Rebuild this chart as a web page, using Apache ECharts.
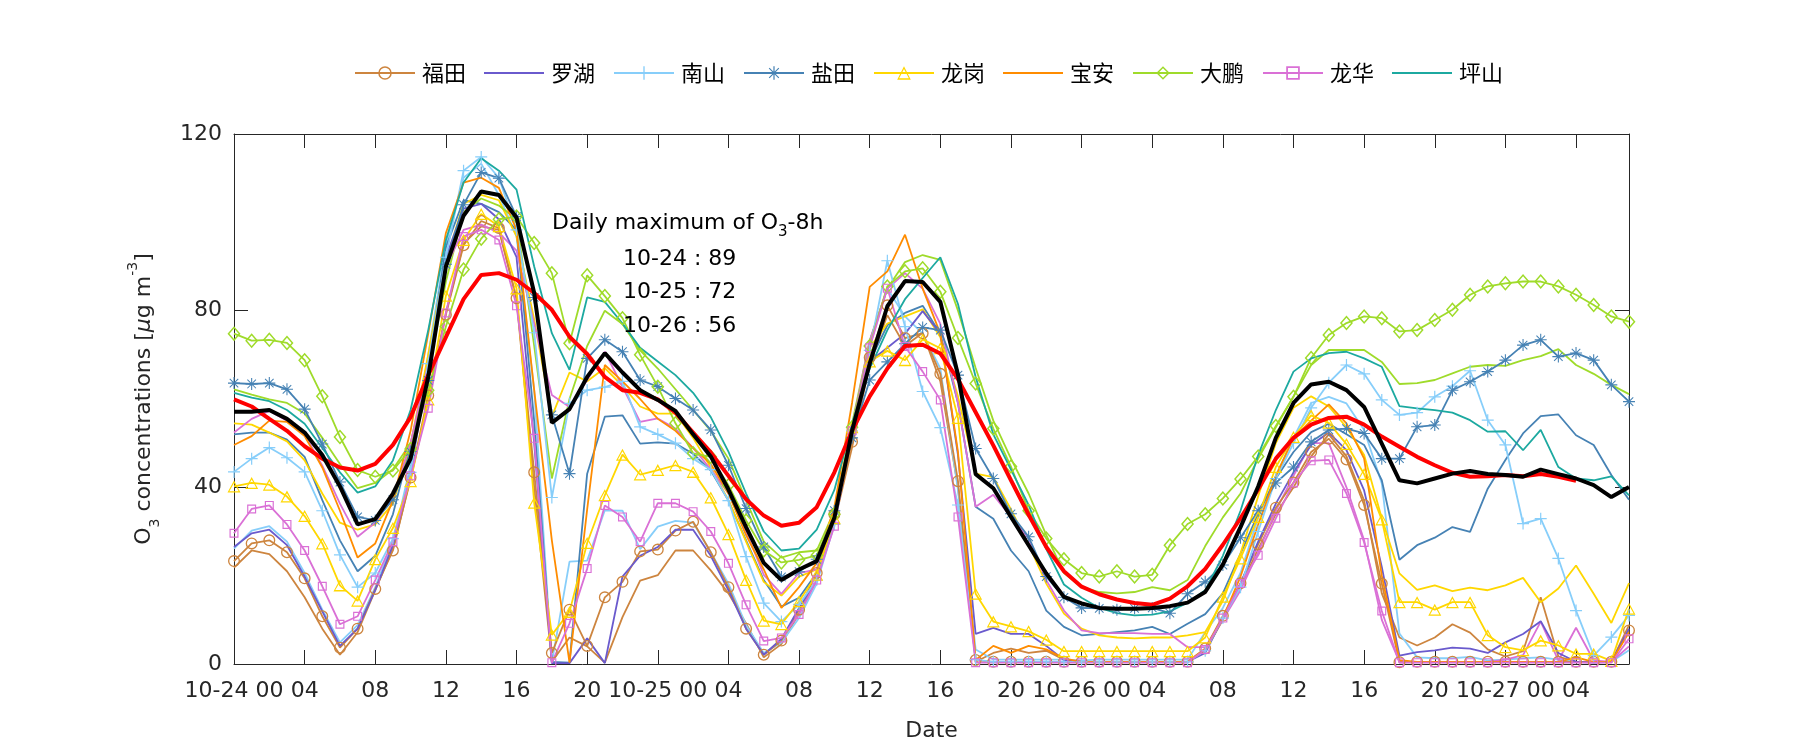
<!DOCTYPE html>
<html><head><meta charset="utf-8">
<script src="https://cdn.jsdelivr.net/npm/echarts@6/dist/echarts.min.js"></script>
<style>html,body{margin:0;padding:0;background:#fff}#chart{width:1800px;height:750px}</style>
</head><body><div id="chart"></div>
<script>
// ---- data (hourly, 10-24 00:00 .. 10-27 07:00) ----
const days = ['10-24', '10-25', '10-26', '10-27'];
const stationNames = ['福田', '罗湖', '南山', '盐田', '龙岗', '宝安', '大鹏', '龙华', '坪山'];
const maxLabels = ['10-24 : 89', '10-25 : 72', '10-26 : 56'];

const futian = [23.3,27.3,28.0,25.3,19.4,10.8,3.7,8.0,17.0,25.7,42.2,60.8,79.1,94.8,100.3,98.7,82.8,
 43.4,2.5,12.3,4.1,15.1,18.6,25.5,25.9,30.2,32.2,25.3,17.4,8.0,2.1,5.3,12.3,
 20.6,33.9,50.3,69.4,81.2,73.8,74.9,65.7,41.4,0.9,0.5,0.5,0.5,0.5,0.5,0.5,
 0.5,0.5,0.5,0.5,0.5,0.5,3.5,10.9,18.3,27.1,35.4,41.1,48.0,51.0,46.3,36.0,
 18.2,0.4,0.5,0.5,0.5,0.5,0.5,0.5,0.5,0.5,0.5,0.5,0.5,0.5,7.6];
const futian2 = [21.8,25.7,24.9,21.0,15.1,8.0,2.1,7.2,16.7,26.1,41.8,59.9,79.5,95.2,99.1,98.3,82.6,
 40.0,0.5,6.0,4.0,0.3,10.6,18.9,20.1,25.7,25.7,21.2,16.0,9.2,1.5,4.5,11.5,
 19.0,32.0,49.0,68.0,79.0,72.0,75.0,64.0,40.0,0.5,2.5,3.5,2.5,3.0,1.0,0.5,
 0.5,0.5,0.5,0.5,0.5,0.5,3.0,10.0,17.5,26.0,34.0,40.0,47.0,52.0,47.0,37.0,
 16.0,6.0,4.2,6.0,9.0,7.1,3.3,1.7,2.9,15.1,1.7,0.5,0.5,0.5,8.8];
const luohu = [26.5,29.6,30.4,26.9,19.8,11.9,4.1,8.0,16.7,26.9,43.4,66.9,92.1,103.1,104.2,100.7,92.1,
 50.0,0.2,0.2,5.8,0.2,19.8,24.5,26.5,30.4,30.4,24.5,16.7,8.0,2.1,5.7,12.7,
 19.0,32.4,52.8,68.5,71.6,74.8,79.9,74.8,47.3,6.8,8.2,6.8,6.8,4.1,0.9,0.5,
 0.5,0.5,0.5,0.5,0.5,0.5,2.5,10.4,18.2,27.7,36.3,43.4,49.6,52.4,48.4,39.3,
 22.0,1.9,2.7,3.1,3.7,3.5,2.5,4.9,6.8,9.7,2.5,0.5,0.3,0.5,8.0];
const nanshan = [43.5,46.5,49.0,46.7,43.5,34.7,24.7,17.4,20.6,28.4,43.4,68.0,92.1,111.7,114.8,110.1,98.3,
 75.0,37.7,59.0,62.0,62.7,64.0,53.7,52.0,50.0,46.5,44.0,37.0,24.3,13.8,9.6,13.5,
 19.0,31.6,52.8,71.0,91.3,76.4,61.7,53.5,36.0,1.0,0.5,0.5,0.5,0.5,0.5,0.5,
 0.5,0.5,0.5,0.5,0.5,0.5,3.0,10.4,17.4,30.0,42.0,50.0,58.0,63.7,67.7,65.7,
 59.8,56.4,56.9,60.5,62.9,66.4,55.2,49.6,31.8,32.9,23.9,12.1,1.9,6.1,11.0];
const nanshan2 = [26.1,30.2,31.2,27.7,20.6,12.3,4.9,8.8,17.4,27.7,45.0,70.0,95.0,110.1,113.3,106.2,96.8,
 62.0,0.3,23.2,23.4,34.8,34.7,26.0,31.1,32.4,32.0,25.3,18.2,8.8,2.5,4.9,10.4,
 18.2,31.6,52.8,73.2,85.0,78.7,74.8,66.9,39.4,3.3,1.0,1.0,1.0,1.0,1.0,0.8,
 1.0,1.0,1.0,1.0,1.0,1.0,7.2,12.7,20.6,33.1,42.6,51.2,59.1,60.5,59.0,53.0,
 40.9,6.9,1.5,1.3,1.3,1.6,0.8,1.0,1.3,1.5,1.0,0.5,0.5,0.5,3.1];
const yantian = [63.6,63.4,63.6,62.2,57.7,49.8,41.2,33.3,32.5,37.2,48.1,64.2,90.5,104.0,111.3,110.0,101.3,
 83.0,56.4,43.1,69.2,73.4,70.7,64.3,62.8,60.1,57.5,53.0,45.0,35.2,26.5,19.7,20.9,
 23.7,34.7,51.2,64.3,68.4,72.5,76.2,75.6,65.4,48.8,42.0,34.0,28.8,19.8,15.1,12.7,
 12.6,12.3,12.6,12.7,11.5,15.9,18.6,22.4,28.6,34.7,41.0,44.6,50.3,53.0,53.3,52.2,
 46.5,46.5,53.7,54.1,62.0,63.9,66.2,68.8,72.2,73.4,69.6,70.4,68.8,63.2,59.4];
const yantian2 = [52.0,52.4,52.4,50.8,46.9,37.1,28.0,21.0,24.5,33.9,49.6,66.9,94.4,105.0,104.2,102.3,98.3,
 55.0,0.5,0.3,43.1,56.0,56.3,49.9,50.2,49.9,47.6,43.8,37.0,28.0,19.0,13.0,15.0,
 20.6,33.1,51.2,68.5,76.7,79.5,81.1,74.8,59.1,35.6,32.9,25.7,21.0,12.1,8.4,6.5,
 6.8,7.2,7.6,8.4,6.8,9.1,11.3,16.0,25.0,34.0,42.0,48.0,52.5,54.4,52.0,49.6,
 41.6,23.6,26.9,28.6,31.0,29.9,39.7,46.2,52.2,56.1,56.5,51.8,49.6,42.8,37.2];
const longgang = [40.2,41.0,40.6,37.9,33.5,27.3,17.8,14.3,23.7,30.8,41.4,59.9,83.4,96.0,101.9,99.1,85.0,
 36.5,6.6,11.8,27.4,38.2,47.4,42.9,43.9,45.0,43.5,37.7,29.4,19.0,9.8,9.0,14.2,
 20.2,33.0,53.6,68.5,70.9,68.8,73.5,71.5,55.7,15.9,9.6,8.5,7.4,5.5,2.9,2.9,
 2.9,2.9,2.9,2.9,2.9,2.9,6.0,15.2,23.9,33.3,44.6,51.4,56.3,54.6,49.8,43.0,
 32.7,14.0,14.0,12.3,14.0,14.0,6.5,3.8,3.1,5.3,4.2,2.3,2.3,0.7,12.5];
const longgang2 = [54.5,54.2,52.4,50.4,46.1,38.6,32.0,30.4,31.6,36.3,49.6,70.1,91.3,104.2,106.2,105.0,96.8,
 78.0,56.0,66.0,64.0,67.0,63.0,58.3,56.7,56.7,51.2,44.5,37.1,27.7,18.6,15.5,19.8,
 21.4,33.1,53.6,71.6,77.1,78.7,80.3,74.0,60.6,43.1,42.3,35.0,27.0,18.2,11.4,8.0,
 6.5,6.0,5.8,6.0,6.0,6.5,7.2,14.3,25.0,38.0,50.0,58.0,60.6,58.3,53.6,47.3,
 33.0,20.5,16.8,17.8,16.5,17.3,16.7,17.8,19.5,14.0,17.1,22.3,15.9,9.3,18.3];
const baoan = [49.6,51.6,55.1,54.8,51.6,44.5,34.7,24.1,27.3,37.1,52.8,74.8,97.6,109.0,110.1,107.8,98.3,
 62.0,28.0,0.3,35.0,67.7,64.0,60.0,55.5,52.8,48.9,45.3,38.6,29.2,21.4,12.7,17.4,
 22.9,35.5,59.1,85.4,88.9,97.2,85.0,74.8,48.0,0.9,4.1,2.5,4.1,3.3,1.3,0.5,
 0.5,0.5,0.5,0.5,0.5,0.5,3.3,10.4,19.8,31.6,42.6,51.2,55.1,58.8,54.5,46.5,
 20.0,0.9,0.5,0.5,0.5,0.5,0.5,0.5,0.5,0.5,0.5,1.5,0.5,0.5,7.2];
const dapeng = [74.8,73.2,73.4,72.7,68.8,60.6,51.4,43.9,42.4,43.8,48.7,62.0,76.4,89.3,96.3,100.7,101.3,
 95.3,88.5,72.6,88.0,83.3,78.3,70.0,62.8,54.5,47.7,46.9,40.5,32.5,25.7,23.0,23.6,
 24.6,33.9,53.6,72.0,85.5,88.9,89.6,84.3,73.8,63.5,53.3,44.7,34.7,28.4,23.7,20.6,
 19.8,21.0,19.8,20.2,26.9,31.7,33.9,37.5,41.9,47.0,53.9,60.5,69.3,74.5,77.2,78.7,
 78.3,75.3,75.6,77.9,80.2,83.6,85.5,86.2,86.6,86.6,85.5,83.6,81.3,78.7,77.5];
const dapeng2 = [62.2,61.0,59.9,59.1,56.7,51.2,45.3,39.8,41.0,44.1,50.0,66.0,86.6,102.3,105.4,103.8,100.7,
 72.0,42.0,60.0,72.0,80.0,77.0,71.0,66.9,62.2,57.5,52.8,46.5,37.1,27.7,24.1,25.3,
 25.7,34.7,54.4,73.2,85.0,91.0,92.6,91.5,80.0,67.0,55.1,46.5,38.6,29.2,20.6,17.4,
 16.3,16.0,16.3,17.4,16.7,19.0,26.7,33.2,38.6,46.5,53.6,60.6,67.7,71.1,71.1,71.1,
 68.4,63.4,63.6,64.3,65.8,67.3,67.7,67.5,68.8,69.7,71.3,67.7,65.7,63.2,61.1];
const longhua = [29.6,35.1,35.9,31.6,25.7,17.6,9.0,10.8,19.0,27.7,42.6,57.9,79.5,96.8,98.3,96.0,81.1,
 51.1,0.3,9.2,21.6,35.9,33.3,27.7,36.4,36.4,34.5,30.0,22.8,13.4,5.2,5.9,11.2,
 19.0,31.2,52.8,71.6,85.1,71.9,66.2,59.8,33.3,0.3,0.3,0.3,0.3,0.3,0.3,0.3,
 0.3,0.3,0.3,0.3,0.3,0.3,3.3,10.4,18.2,24.6,33.0,41.0,46.0,46.2,38.6,27.5,
 12.0,0.3,0.3,0.3,0.3,0.3,0.3,0.3,0.3,0.3,0.3,0.3,0.3,0.3,5.7];
const longhua2 = [52.4,55.5,57.3,55.1,52.0,44.9,36.3,28.8,32.0,37.9,50.0,68.0,90.0,98.3,99.5,97.6,93.6,
 77.0,60.9,58.2,64.3,70.7,62.8,54.8,55.6,53.3,48.9,44.1,38.6,30.0,20.2,15.9,20.6,
 21.4,33.0,53.6,73.2,85.0,88.5,85.0,77.0,59.0,35.6,38.3,33.3,28.4,19.0,12.1,7.6,
 7.0,7.0,7.0,6.8,6.8,3.8,3.8,10.0,16.7,25.3,34.7,42.6,50.0,50.0,40.0,28.0,
 10.0,0.5,0.5,0.5,0.5,0.5,0.5,1.0,2.0,9.6,0.8,8.2,0.8,0.5,4.0];
const pingshan = [61.4,60.3,59.5,57.5,54.4,48.9,43.4,38.8,40.2,46.1,57.5,75.6,96.0,109.0,114.5,111.7,107.4,
 90.0,74.9,66.6,83.0,82.0,77.1,71.6,68.5,65.4,61.4,55.9,48.1,38.6,30.0,25.7,26.1,
 30.4,39.4,54.4,66.9,75.6,82.6,87.4,92.1,81.5,65.0,52.0,44.0,36.0,26.0,18.0,15.0,
 12.7,11.5,11.0,11.2,11.9,13.9,16.7,24.5,34.7,47.3,57.5,66.2,69.2,70.4,70.7,69.2,
 67.3,58.4,57.9,57.5,56.9,55.2,52.6,52.7,48.4,53.0,44.6,42.0,41.6,42.5,38.2];
const cityBlack = [57.1,57.1,57.5,55.5,52.4,47.3,40.2,31.6,32.8,38.6,46.5,65.0,90.0,101.5,107.0,106.2,101.1,
 84.0,54.6,57.7,65.0,70.4,66.0,62.0,59.8,57.3,52.0,47.0,39.5,31.0,22.9,19.0,21.4,
 23.3,33.1,52.8,68.0,81.0,86.7,86.5,82.0,65.5,43.0,39.8,33.3,26.9,20.5,15.2,13.7,
 12.7,12.5,12.5,12.7,13.1,13.9,16.3,22.5,31.0,40.2,51.2,59.1,63.3,63.9,62.0,58.2,
 49.9,41.6,40.9,42.0,43.1,43.7,43.0,42.8,42.4,44.0,43.0,42.0,40.5,37.8,40.1];
const o3_8h = [59.9,58.3,55.5,52.8,49.3,46.5,44.5,43.8,45.3,49.6,55.9,65.4,74.0,82.6,88.1,88.5,87.0,
 84.0,80.2,74.1,70.2,65.0,62.0,61.4,59.9,56.9,52.4,47.9,42.6,37.3,33.6,31.3,32.0,
 35.5,43.4,52.8,60.6,66.9,72.0,72.3,70.3,64.5,57.0,49.5,41.6,33.8,26.5,21.0,17.5,
 15.8,14.6,13.8,13.4,14.8,17.6,21.5,27.0,33.0,39.5,46.5,51.2,54.2,55.7,56.0,54.2,
 51.5,49.2,46.9,45.0,43.3,42.4,42.5,42.8,42.5,43.0,42.4,41.5,null,null,null];

// ---- marker shapes (outline rings drawn as filled paths) ----
const SYM = {
  circle: 'path://M10,0A10,10,0,1,1,10,20A10,10,0,1,1,10,0ZM10,2.2A7.8,7.8,0,1,0,10,17.8A7.8,7.8,0,1,0,10,2.2Z',
  plus: 'path://M9,0L11,0L11,9L20,9L20,11L11,11L11,20L9,20L9,11L0,11L0,9L9,9Z',
  star: 'path://M9.1,0L10.9,0L10.9,20L9.1,20ZM0,9.1L20,9.1L20,10.9L0,10.9ZM2.3,3.5L3.5,2.3L17.7,16.5L16.5,17.7ZM16.5,2.3L17.7,3.5L3.5,17.7L2.3,16.5Z',
  tri: 'path://M10,0L20,18L0,18ZM10,3.8L2.9,16.1L17.1,16.1Z',
  diamond: 'path://M10,0L20,10L10,20L0,10ZM10,3L3,10L10,17L17,10Z',
  square: 'path://M0,0L20,0L20,20L0,20ZM2.6,2.6L2.6,17.4L17.4,17.4L17.4,2.6Z'
};
const lineIcon = 'path://M0,9.1L60,9.1L60,10.9L0,10.9Z';

const stations = [
  { name: '福田', color: '#CD853F', data: futian, extra: futian2, sym: SYM.circle, size: [12, 12] },
  { name: '罗湖', color: '#6A5ACD', data: luohu },
  { name: '南山', color: '#87CEFA', data: nanshan, extra: nanshan2, sym: SYM.plus, size: [12, 12] },
  { name: '盐田', color: '#4682B4', data: yantian, extra: yantian2, sym: SYM.star, size: [12, 12] },
  { name: '龙岗', color: '#FFD700', data: longgang, extra: longgang2, sym: SYM.tri, size: [13, 12] },
  { name: '宝安', color: '#FF8C00', data: baoan },
  { name: '大鹏', color: '#9FDB2A', data: dapeng, extra: dapeng2, sym: SYM.diamond, size: [13, 15] },
  { name: '龙华', color: '#DA70D6', data: longhua, extra: longhua2, sym: SYM.square, size: [9, 9] },
  { name: '坪山', color: '#1CA9A0', data: pingshan }
];

const toXY = arr => arr.map((v, i) => [i, v]);
const series = [];
stations.forEach(s => {
  if (s.extra) {
    series.push({ name: s.name + '_b', type: 'line', data: toXY(s.extra), symbol: 'none',
      lineStyle: { color: s.color, width: 1.8 }, itemStyle: { color: s.color }, z: 2 });
  }
});
stations.forEach(s => {
  series.push({ name: s.name, type: 'line', data: toXY(s.data),
    symbol: s.sym || 'none', symbolSize: s.size || 0, showAllSymbol: true,
    lineStyle: { color: s.color, width: 1.8 }, itemStyle: { color: s.color }, z: 3 });
});
series.push({ name: 'O3-8h', type: 'line', data: toXY(o3_8h), symbol: 'none',
  lineStyle: { color: '#FF0000', width: 4 }, itemStyle: { color: '#FF0000' }, z: 4 });
series.push({ name: 'mean', type: 'line', data: toXY(cityBlack), symbol: 'none',
  lineStyle: { color: '#000000', width: 4 }, itemStyle: { color: '#000000' }, z: 5 });

const pad = n => (n < 10 ? '0' : '') + n;
const xFmt = v => {
  if (v % 4 !== 0) return '';
  if (v % 24 === 0) return days[v / 24] + ' 00';
  return pad(v % 24);
};
const axisCol = '#262626';
const tickFont = 'DejaVu Sans';

const chart = echarts.init(document.getElementById('chart'), null, { renderer: 'canvas' });
chart.setOption({
  animation: false,
  backgroundColor: '#ffffff',
  grid: { left: 234, right: 171, top: 134, bottom: 86, containLabel: false },
  legend: {
    data: stations.map(s => s.sym ? { name: s.name } : { name: s.name, icon: lineIcon }),
    left: 349, top: 57, itemWidth: 60, itemHeight: 17, itemGap: 18,
    textStyle: { fontSize: 22, color: '#000', fontFamily: 'Noto Sans CJK SC', padding: [0, 0, 0, 2] },
    selectedMode: false
  },
  xAxis: [{
    type: 'value', min: 0, max: 79, interval: 4,
    name: 'Date', nameLocation: 'middle', nameGap: 56,
    nameTextStyle: { fontSize: 22, color: axisCol, fontFamily: tickFont },
    axisLine: { lineStyle: { color: axisCol, width: 1 } },
    axisTick: { inside: true, length: 14, lineStyle: { color: axisCol } },
    axisLabel: { formatter: xFmt, fontSize: 22, color: axisCol, fontFamily: tickFont, margin: 16, showMaxLabel: false },
    splitLine: { show: false }
  }, {
    type: 'value', min: 0, max: 79, interval: 4, position: 'top',
    axisLine: { show: true, onZero: false, lineStyle: { color: axisCol, width: 1 } },
    axisTick: { inside: true, length: 14, lineStyle: { color: axisCol } },
    axisLabel: { show: false }, splitLine: { show: false }
  }],
  yAxis: [{
    type: 'value', min: 0, max: 120, interval: 40,
    name: 'O{sub|3} concentrations [{it|μ}g m{sup|-3}]', nameLocation: 'middle', nameGap: 72,
    nameTextStyle: {
      fontSize: 22, color: axisCol, fontFamily: tickFont, lineHeight: 36,
      rich: {
        sub: { fontSize: 14, lineHeight: 14, verticalAlign: 'bottom', fontFamily: tickFont, color: axisCol },
        sup: { fontSize: 14, lineHeight: 14, verticalAlign: 'top', fontFamily: tickFont, color: axisCol },
        it: { fontSize: 22, fontStyle: 'italic', fontFamily: tickFont, color: axisCol }
      }
    },
    axisLine: { show: true, lineStyle: { color: axisCol, width: 1 } },
    axisTick: { show: true, inside: true, length: 14, lineStyle: { color: axisCol } },
    axisLabel: { fontSize: 22, color: axisCol, fontFamily: tickFont, margin: 12 },
    splitLine: { show: false }
  }, {
    type: 'value', min: 0, max: 120, interval: 40, position: 'right',
    axisLine: { show: true, onZero: false, lineStyle: { color: axisCol, width: 1 } },
    axisTick: { show: true, inside: true, length: 14, lineStyle: { color: axisCol } },
    axisLabel: { show: false }, splitLine: { show: false }
  }],
  graphic: [
    { type: 'text', left: 552, top: 206, z: 10,
      style: { text: 'Daily maximum of O{sub|3}-8h', fontSize: 22, fontFamily: tickFont, fill: '#000', lineHeight: 34,
        rich: { sub: { fontSize: 15, lineHeight: 12, verticalAlign: 'bottom', fontFamily: tickFont, fill: '#000' } } } },
    ...maxLabels.map((t, i) => ({ type: 'text', left: 623, top: 248 + i * 33.5, z: 10,
      style: { text: t, fontSize: 22, fontFamily: tickFont, fill: '#000' } }))
  ],
  series: series
});
</script></body></html>
